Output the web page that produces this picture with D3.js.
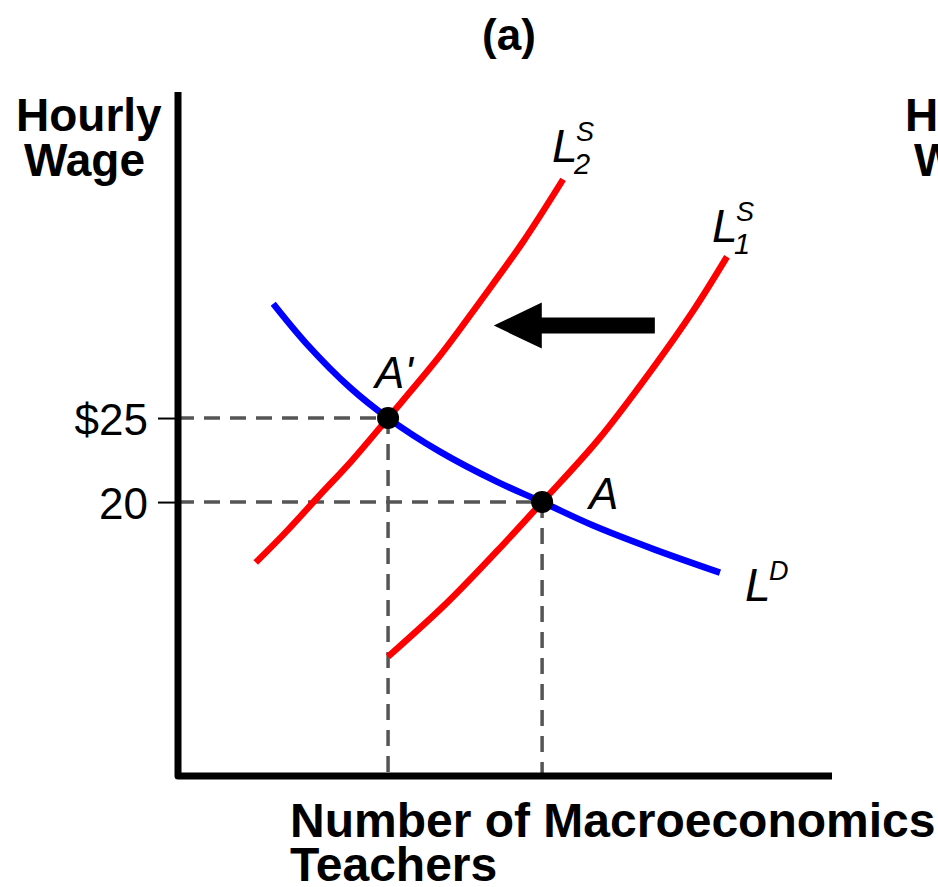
<!DOCTYPE html>
<html>
<head>
<meta charset="utf-8">
<script src="https://cdn.jsdelivr.net/npm/d3@7"></script>
<style>
  html, body { margin: 0; padding: 0; background: #fff; overflow: hidden; }
  text { font-family: "Liberation Sans", Arial, sans-serif; }
</style>
</head>
<body>
<div id="chart"></div>
<script>
// labour market for macroeconomics teachers, panel (a)
// quantity (teachers) vs hourly wage ($)
const demand = [[13.6,31.8],[18.4,29.4],[24.6,26.8],[30,25],[37.4,23.0],[45.6,21.2],[52,20],[59.3,18.6],[67.9,17.2],[77.4,15.8]]
const supply1 = [[30,10.8],[38.4,14.0],[45.6,17.1],[52,20],[60,23.7],[67.7,27.9],[73.6,31.4],[78.4,34.6]]
const supply2 = [[11.1,16.4],[15.6,18.3],[20,20.3],[24.9,22.5],[30,25],[37.4,28.7],[43.1,31.9],[49.3,35.5],[55,39.2]]
const equilibria = [{name:'A\'', q:30, w:25}, {name:'A', q:52, w:20}]
const wageTicks = [20, 25]
const wageTickLabels = ['20', '$25']
const shiftArrow = {from:[68.1, 30.5], to:[45.1, 30.5]}

const width = 938, height = 887
const margin = {top: 92, right: 106, bottom: 111, left: 178}

const xScale = d3.scaleLinear()
    .domain([0, 93.4])
    .range([margin.left, width - margin.right])

const yScale = d3.scaleLinear()
    .domain([3.7, 44.4])
    .range([height - margin.bottom, margin.top])

const svg = d3.select('#chart').append('svg')
    .attr('width', width)
    .attr('height', height)

// titles
svg.append('text')
    .attr('x', 509).attr('y', 50)
    .attr('text-anchor', 'middle')
    .style('font-size', '44px').style('font-weight', 'bold')
    .text('(a)')

const yTitle = svg.append('g').style('font-size', '46px').style('font-weight', 'bold')
yTitle.append('text').attr('x', 16).attr('y', 131).text('Hourly')
yTitle.append('text').attr('x', 24).attr('y', 176).text('Wage')
// panel (b) title bleeding in at the right edge
yTitle.append('text').attr('x', 905).attr('y', 131).text('Hourly')
yTitle.append('text').attr('x', 914).attr('y', 176).text('Wage')

const xTitle = svg.append('g').style('font-size', '48px').style('font-weight', 'bold')
xTitle.append('text').attr('x', 290).attr('y', 837).text('Number of Macroeconomics')
xTitle.append('text').attr('x', 290).attr('y', 881).text('Teachers')

// dashed drop lines
const guides = svg.append('g')
    .attr('stroke', '#555')
    .attr('stroke-width', 3.5)
    .attr('stroke-dasharray', '16,10')
    .attr('fill', 'none')

guides.selectAll('.h').data(equilibria).enter().append('line')
    .attr('x1', xScale(0)).attr('x2', d => xScale(d.q))
    .attr('y1', d => yScale(d.w)).attr('y2', d => yScale(d.w))

guides.selectAll('.v').data(equilibria).enter().append('line')
    .attr('x1', d => xScale(d.q)).attr('x2', d => xScale(d.q))
    .attr('y1', d => yScale(d.w)).attr('y2', yScale(yScale.domain()[0]))

// y ticks through d3 axis, own thick axis lines below
const yAxis = d3.axisLeft(yScale)
    .tickValues(wageTicks)
    .tickFormat((d, i) => wageTickLabels[i])
    .tickSize(20)
    .tickPadding(10)

const yAxisG = svg.append('g')
    .attr('transform', 'translate(' + margin.left + ',0)')
    .call(yAxis)
yAxisG.select('.domain').remove()
yAxisG.selectAll('line').attr('stroke', '#000').attr('stroke-width', 2)
yAxisG.selectAll('text')
    .attr('fill', '#000')
    .attr('dy', '0.38em')
    .style('font-family', '"Liberation Sans", Arial, sans-serif')
    .style('font-size', '44px')

svg.append('path')
    .attr('d', d3.line()([
        [xScale(0), yScale.range()[1]],
        [xScale(0), yScale.range()[0]],
        [xScale.range()[1], yScale.range()[0]]
    ]))
    .attr('fill', 'none')
    .attr('stroke', '#000')
    .attr('stroke-width', 7)
    .attr('stroke-linejoin', 'round')

// curves
const line = d3.line()
    .x(d => xScale(d[0]))
    .y(d => yScale(d[1]))
    .curve(d3.curveCatmullRom.alpha(0.5))

const curves = [
    {data: supply2, color: '#ff0000'},
    {data: supply1, color: '#ff0000'},
    {data: demand, color: '#0000ff'}
]

svg.selectAll('.curve').data(curves).enter().append('path')
    .attr('class', 'curve')
    .attr('d', d => line(d.data))
    .attr('fill', 'none')
    .attr('stroke', d => d.color)
    .attr('stroke-width', 6.5)

// shift arrow
const ax0 = xScale(shiftArrow.from[0]), ax1 = xScale(shiftArrow.to[0]), ay = yScale(shiftArrow.to[1])
const headLen = 48, headHalf = 23, shaftHalf = 8
svg.append('path')
    .attr('d', d3.line()([
        [ax1, ay],
        [ax1 + headLen, ay - headHalf],
        [ax1 + headLen, ay - shaftHalf],
        [ax0, ay - shaftHalf],
        [ax0, ay + shaftHalf],
        [ax1 + headLen, ay + shaftHalf],
        [ax1 + headLen, ay + headHalf]
    ]) + 'Z')
    .attr('fill', '#000')

// equilibrium dots
svg.selectAll('.dot').data(equilibria).enter().append('circle')
    .attr('cx', d => xScale(d.q))
    .attr('cy', d => yScale(d.w))
    .attr('r', 11)
    .attr('fill', '#000')

const pointLabelOffset = {'A\'': [-13, -30], 'A': [47, 7]}
svg.selectAll('.plabel').data(equilibria).enter().append('text')
    .attr('x', d => xScale(d.q) + pointLabelOffset[d.name][0])
    .attr('y', d => yScale(d.w) + pointLabelOffset[d.name][1])
    .style('font-size', '44px').style('font-style', 'italic')
    .text(d => d.name)

// curve labels: L with super/subscript
function curveLabel(end, dx, dy, sup, sub) {
    const x = xScale(end[0]) + dx, y = yScale(end[1]) + dy
    const g = svg.append('g').style('font-style', 'italic')
    g.append('text').attr('x', x).attr('y', y).style('font-size', '46px').text('L')
    g.append('text').attr('x', x + 24).attr('y', y - 21).style('font-size', '27px').text(sup)
    if (sub) {
        g.append('text').attr('x', x + 22).attr('y', y + 12).style('font-size', '29px').text(sub)
    }
}

curveLabel(supply2[supply2.length - 1], -11, -17, 'S', '2')
curveLabel(supply1[supply1.length - 1], -15, -15, 'S', '1')
curveLabel(demand[demand.length - 1], 25, 28, 'D', null)
</script>
</body>
</html>
